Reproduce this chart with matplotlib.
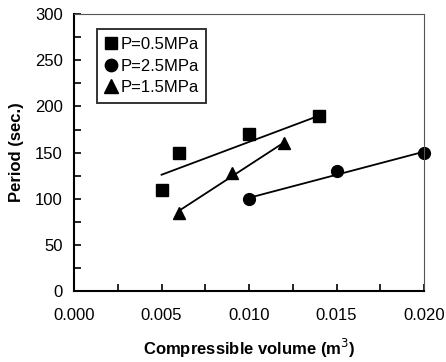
import matplotlib
matplotlib.use("Agg")
import matplotlib.pyplot as plt
from matplotlib.ticker import MultipleLocator, FormatStrFormatter

plt.rcParams['font.family'] = ['Liberation Sans', 'DejaVu Sans']

# measured points
x_05 = [0.005, 0.006, 0.010, 0.014]
y_05 = [110, 150, 170, 190]
x_25 = [0.010, 0.015, 0.020]
y_25 = [100, 130, 150]
x_15 = [0.006, 0.009, 0.012]
y_15 = [85, 128, 160]

# trend lines (end points)
fit_x_05 = [0.005, 0.014]
fit_y_05 = [126, 190]
fit_x_25 = [0.010, 0.020]
fit_y_25 = [101, 151]
fit_x_15 = [0.006, 0.012]
fit_y_15 = [87, 161]

fig = plt.figure(figsize=(4.46, 3.62), dpi=100)
ax = fig.add_axes([0.166, 0.196, 0.785, 0.765])

ax.plot(fit_x_05, fit_y_05, color='black', lw=1.3)
ax.plot(fit_x_25, fit_y_25, color='black', lw=1.3)
ax.plot(fit_x_15, fit_y_15, color='black', lw=1.3)

ax.plot(x_05, y_05, 's', color='black', ms=8.5, label='P=0.5MPa', clip_on=False)
ax.plot(x_25, y_25, 'o', color='black', ms=8.5, label='P=2.5MPa', clip_on=False)
ax.plot(x_15, y_15, '^', color='black', ms=9, label='P=1.5MPa', clip_on=False)

ax.set_xlim(0, 0.020)
ax.set_ylim(0, 300)
ax.xaxis.set_major_locator(MultipleLocator(0.005))
ax.xaxis.set_minor_locator(MultipleLocator(0.0025))
ax.xaxis.set_major_formatter(FormatStrFormatter('%.3f'))
ax.yaxis.set_major_locator(MultipleLocator(50))
ax.yaxis.set_minor_locator(MultipleLocator(25))
ax.tick_params(which='both', direction='in', length=5, width=1.2,
               labelsize=12, top=False, right=False)
ax.tick_params(axis='x', pad=12)
ax.tick_params(axis='y', pad=8)

for s in ['left', 'bottom']:
    ax.spines[s].set_linewidth(1.5)
for s in ['top', 'right']:
    ax.spines[s].set_linewidth(0.8)
    ax.spines[s].set_color('#555555')

ax.set_xlabel('Compressible volume (m$^3$)', fontsize=12, fontweight='bold', labelpad=10)
ax.set_ylabel('Period (sec.)', fontsize=12, fontweight='bold', labelpad=8)

leg = ax.legend(loc='upper left', bbox_to_anchor=(0.065, 0.945), fontsize=12,
                frameon=True, fancybox=False, handlelength=0.8, handletextpad=0.15,
                borderpad=0.45, labelspacing=0.4, borderaxespad=0, markerscale=1.05)
leg.get_frame().set_edgecolor('black')
leg.get_frame().set_linewidth(1.4)

fig.savefig('out.png', dpi=100)
